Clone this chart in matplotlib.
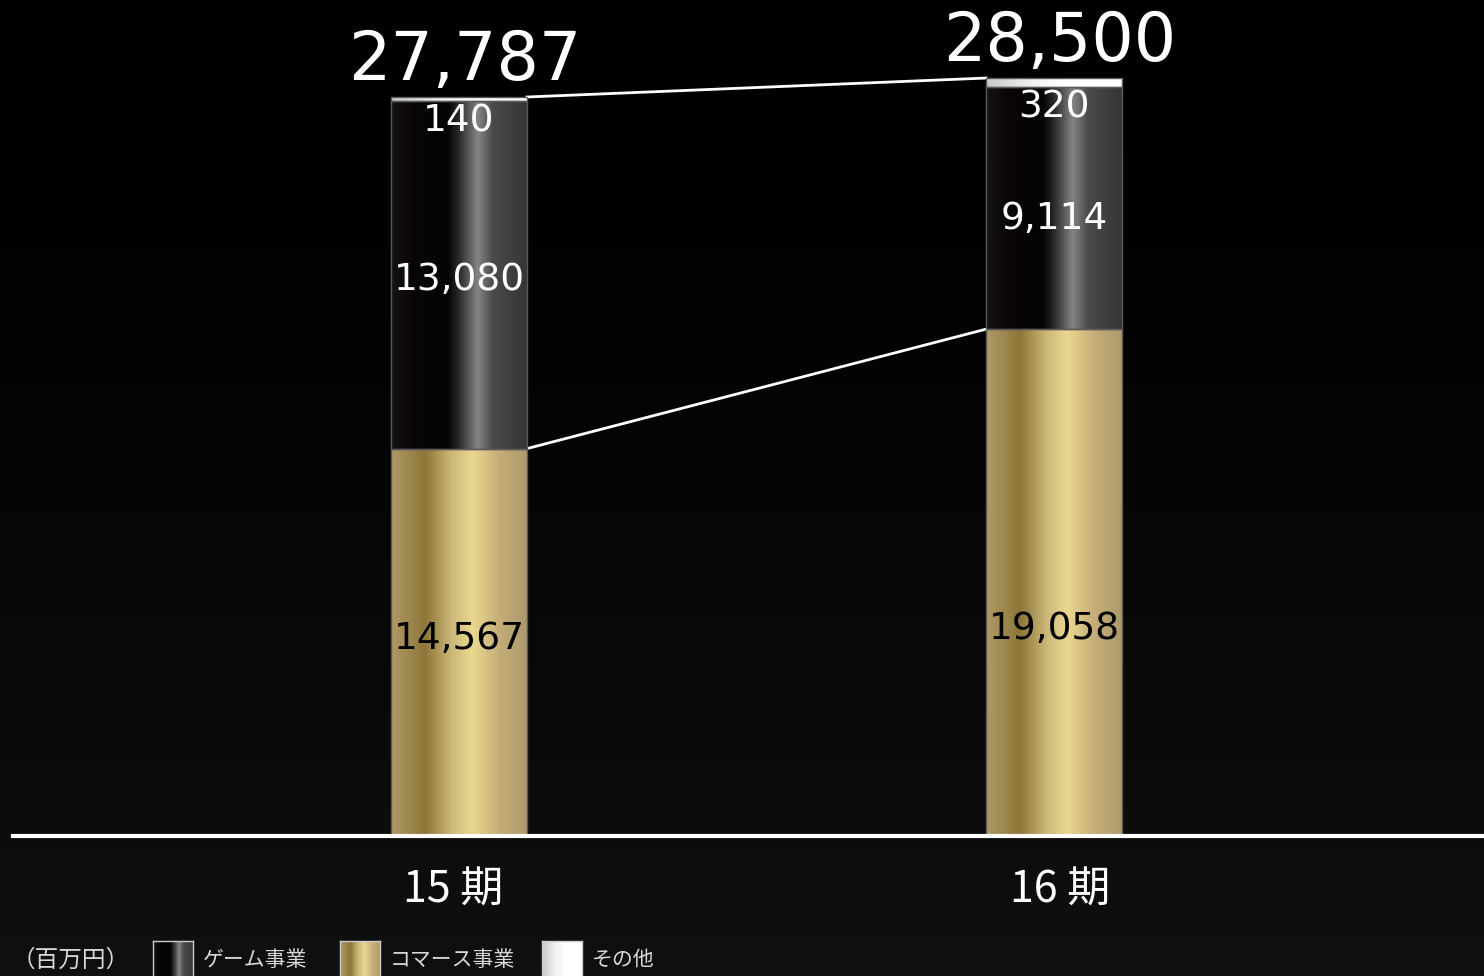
import numpy as np
import matplotlib.pyplot as plt
from matplotlib.colors import LinearSegmentedColormap
from matplotlib.patches import Rectangle

plt.rcParams['font.family'] = ['DejaVu Sans', 'Noto Sans CJK JP']

periods = ["15期", "16期"]
commerce = [14567, 19058]
game = [13080, 9114]
other = [140, 320]
totals = [27787, 28500]
series_names = ["ゲーム事業", "コマース事業", "その他"]
unit_label = "（百万円）"

# horizontal metallic gradients for each segment
game_cmap = LinearSegmentedColormap.from_list(
    "game", [(0, "#141414"), (0.15, "#0a0606"), (0.42, "#050303"), (0.5, "#2a2a2a"),
             (0.64, "#858585"), (0.75, "#4a4a4a"), (1, "#353535")])
gold_cmap = LinearSegmentedColormap.from_list(
    "gold", [(0, "#b09a68"), (0.25, "#8c7738"), (0.45, "#cdb97a"), (0.6, "#ead890"),
             (0.8, "#c4ad78"), (1, "#ad9a6c")])
other_cmap = LinearSegmentedColormap.from_list(
    "other", [(0, "#c8c8c8"), (0.35, "#f2f2f2"), (0.6, "#ffffff"), (1, "#ffffff")])

W, H = 1484, 976
fig = plt.figure(figsize=(W / 100, H / 100), dpi=100)

# background: black fading to dark grey at the bottom
bg = fig.add_axes([0, 0, 1, 1])
bg.imshow(np.linspace(0, 1, 256).reshape(-1, 1) ** 1.5, aspect="auto",
          cmap=LinearSegmentedColormap.from_list("bg", ["#000000", "#101010"]),
          extent=[0, 1, 0, 1], origin="upper")
bg.set_axis_off()

base_px = 836
px_per_unit = 739 / totals[0]
ax = fig.add_axes([0, (H - base_px) / H, 1, base_px / H])
ax.set_axis_off()
ax.patch.set_alpha(0)
x = np.arange(len(periods))
spacing = 595
ax.set_xlim(-459 / spacing, 1 + (W - 1054) / spacing)
ax.set_ylim(0, base_px / px_per_unit)
bw = 136 / spacing

grad = np.linspace(0, 1, 256).reshape(1, -1)

# nudges for the in-bar labels (value units)
commerce_nudge = [140, -1730]
game_nudge = [-210, -410]


def segment(xc, y0, h, cmap):
    ext = [xc - bw / 2, xc + bw / 2, y0, y0 + h]
    im = ax.imshow(grad, cmap=cmap, aspect="auto", extent=ext, zorder=2,
                   interpolation="bilinear")
    r = Rectangle((ext[0], y0), bw, h, facecolor="none", edgecolor="#5a5a5a",
                  lw=1, zorder=3)
    ax.add_patch(r)
    im.set_clip_path(r)


for i in range(len(periods)):
    segment(x[i], 0, commerce[i], gold_cmap)
    segment(x[i], commerce[i], game[i], game_cmap)
    segment(x[i], commerce[i] + game[i], other[i], other_cmap)

    ax.text(x[i], commerce[i] / 2 + commerce_nudge[i], f"{commerce[i]:,}",
            ha="center", va="center", fontsize=27, color="black", zorder=4)
    ax.text(x[i], commerce[i] + game[i] / 2 + game_nudge[i], f"{game[i]:,}",
            ha="center", va="center", fontsize=27, color="white", zorder=4)
    ax.text(x[i], commerce[i] + game[i] - 780, f"{other[i]:,}", ha="center",
            va="center", fontsize=27, color="white", zorder=4)
    ax.text(x[i] + 0.01, totals[i] + 650, f"{totals[i]:,}", ha="center",
            va="baseline", fontsize=48, color="white", zorder=4)

# connector lines between the two bars
ax.plot([x[0] + bw / 2, x[1] - bw / 2], [totals[0], totals[1]], color="white", lw=2, zorder=1)
ax.plot([x[0] + bw / 2, x[1] - bw / 2], [commerce[0], commerce[1]], color="white", lw=2, zorder=1)

# baseline
ax.axhline(0, xmin=13 / W, xmax=1, color="white", lw=3, zorder=5, clip_on=False)

# period labels below the baseline
for i, p in enumerate(periods):
    ax.text(x[i] - 0.01 + 0.02 * i, -2070, p[:-1] + " " + p[-1], ha="center",
            va="center", fontsize=31, color="white", family=["Noto Sans CJK JP"],
            clip_on=False)

# legend row
leg_y = 1 - 960 / H
fig.text(12 / W, leg_y, unit_label, ha="left",
         va="center", fontsize=17, color="#d8d8d8", family=["Noto Sans CJK JP"])
swatches = [(153, game_cmap), (340, gold_cmap), (542, other_cmap)]
for (sx, cmap), name in zip(swatches, series_names):
    sax = fig.add_axes([sx / W, 0, 40 / W, (H - 941) / H])
    sax.imshow(grad, cmap=cmap, aspect="auto", extent=[0, 1, 0, 1])
    sax.set_xlim(0, 1)
    sax.set_ylim(0, 1)
    for s in sax.spines.values():
        s.set_color("#cccccc")
        s.set_linewidth(1)
    sax.spines["bottom"].set_visible(False)
    sax.set_xticks([])
    sax.set_yticks([])
    fig.text((sx + 50) / W, leg_y, name, ha="left", va="center", fontsize=15,
             color="#d8d8d8", family=["Noto Sans CJK JP"])

fig.savefig("out.png", dpi=100, facecolor="black")
